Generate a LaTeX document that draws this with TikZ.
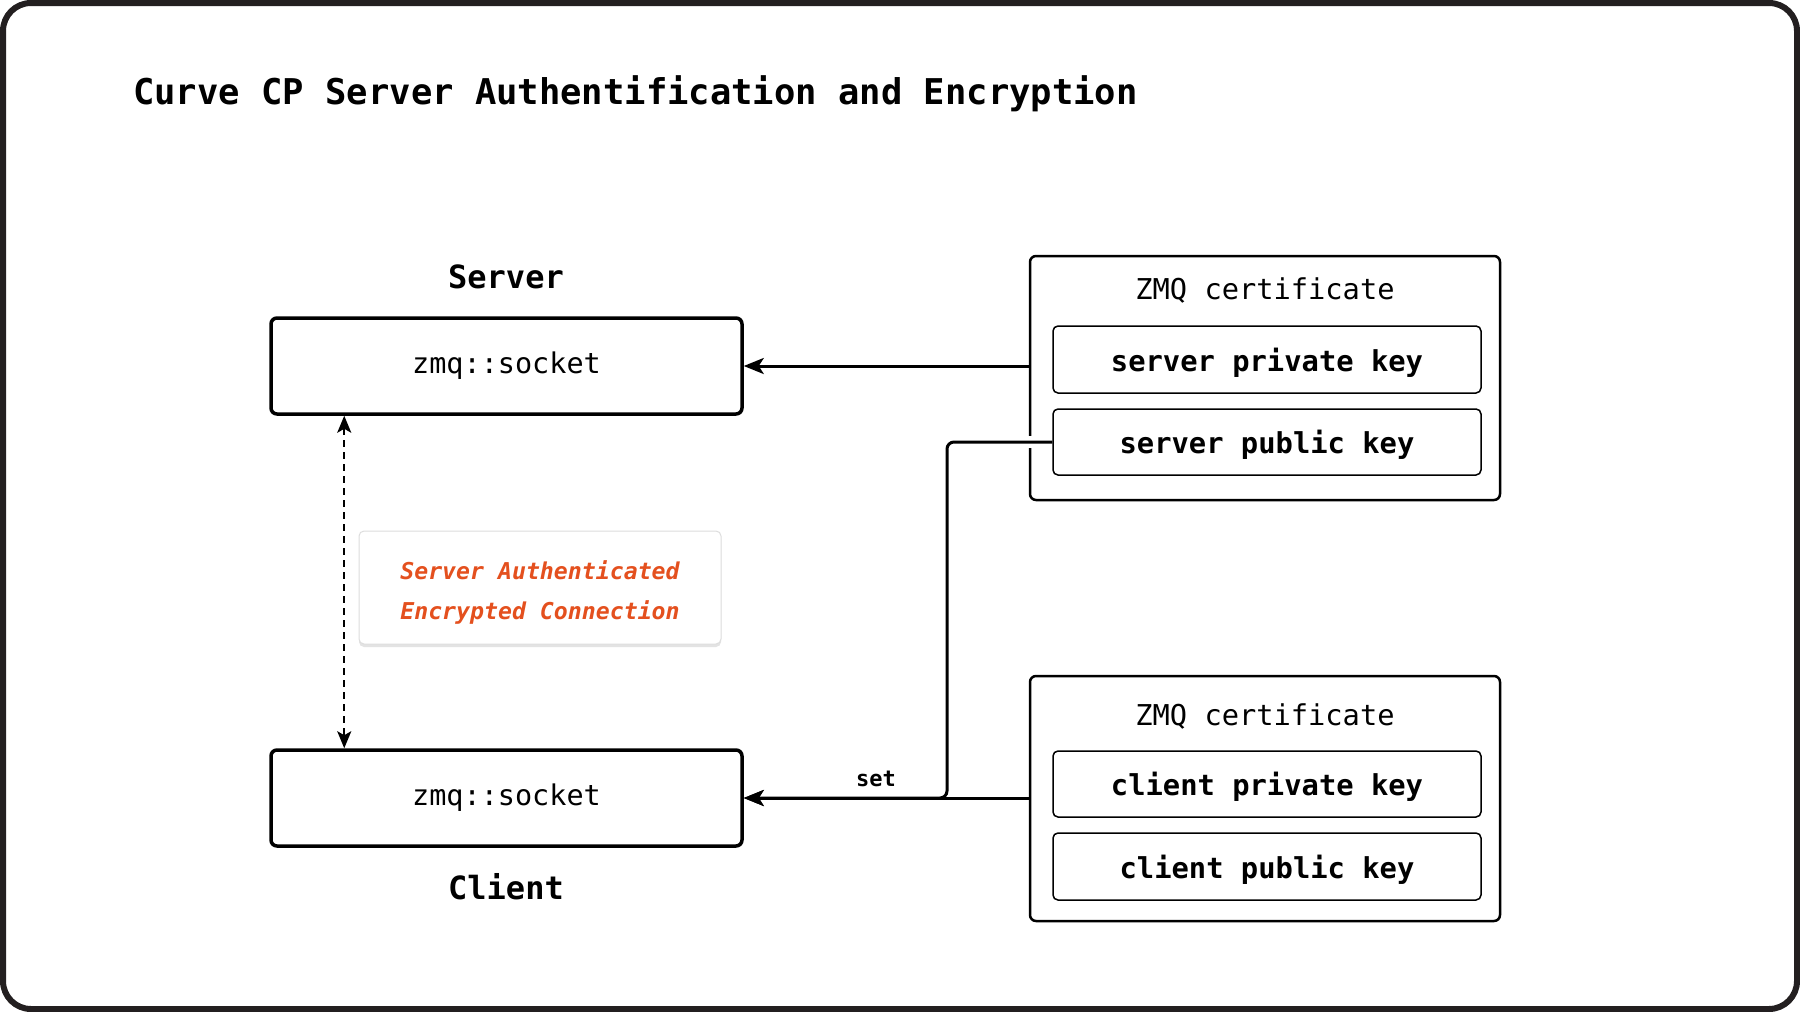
\documentclass[tikz,border=0pt]{standalone}
\usepackage{fontspec}
\setmonofont{DejaVu Sans Mono}
\usetikzlibrary{arrows.meta,shadows,calc}
\definecolor{framecol}{HTML}{231F20}
\definecolor{accent}{HTML}{E4501E}
\definecolor{lblborder}{HTML}{DDDDDD}
\tikzset{
  socketbox/.style={draw=black, line width=3.5pt, rounded corners=6pt, minimum width=471pt, minimum height=96pt, font=\ttfamily\fontsize{28.5}{34}\selectfont, inner sep=0pt},
  certbox/.style={draw=black, line width=2.5pt, rounded corners=6pt, minimum width=470pt, minimum height=244pt, inner sep=0pt},
  keybox/.style={draw=black, line width=1.5pt, rounded corners=5pt, minimum width=428pt, minimum height=66pt, font=\ttfamily\bfseries\fontsize{28.8}{34}\selectfont, inner sep=0pt, text depth=0pt},
  certtitle/.style={font=\ttfamily\fontsize{28.7}{34}\selectfont, inner sep=0pt},
  rolelabel/.style={font=\ttfamily\bfseries\fontsize{32}{38}\selectfont, inner sep=0pt},
  conn/.style={draw=black, line width=3pt, -{Stealth[length=20pt,width=16pt,inset=5pt]}},
  dasharrow/.style={draw=black, line width=2.2pt, dash pattern=on 7pt off 5pt, {Stealth[length=17pt,width=14pt,inset=4pt]}-{Stealth[length=17pt,width=14pt,inset=4pt]}},
  notebox/.style={draw=lblborder, line width=1pt, fill=white, rounded corners=5pt, minimum width=362pt, minimum height=113pt, drop shadow={opacity=0.22, shadow xshift=0pt, shadow yshift=-3pt}},
  notetext/.style={align=center, text=accent, font=\ttfamily\bfseries\itshape\fontsize{23.2}{40}\selectfont, inner sep=0pt},
}
\begin{document}
\begin{tikzpicture}[x=1pt, y=-1pt]
\useasboundingbox (0,0) rectangle (1800,1012);
\fill[white] (0,0) rectangle (1800,1012);
\draw[framecol, line width=6pt, rounded corners=28pt] (3,3) rectangle (1797,1009);

\node[font=\ttfamily\bfseries\fontsize{35.5}{42}\selectfont, anchor=west, inner sep=0pt] (title) at (133,94) {Curve CP Server Authentification and Encryption};

\node[rolelabel] (serverlbl) at (506,277) {Server};
\node[socketbox] (ssock) at (506.5,366) {zmq::socket};
\node[socketbox] (csock) at (506.5,798) {zmq::socket};
\node[rolelabel] (clientlbl) at (506,887) {Client};

\node[certbox] (scert) at (1265,378) {};
\node[certtitle] (scerttitle) at (1265,290) {ZMQ certificate};
\node[certbox, minimum height=245pt] (ccert) at (1265,798.5) {};
\node[certtitle] (ccerttitle) at (1265,716) {ZMQ certificate};

% gap in certificate border where the "set" line crosses
\draw[white, line width=4pt] (1030,436) -- (1030,448);

\node[keybox, minimum height=67pt] (spriv) at (1267,359.5) {server private key};
\node[keybox] (spub) at (1267,442) {server public key};
\node[keybox] (cpriv) at (1267,784) {client private key};
\node[keybox, minimum height=67pt] (cpub) at (1267,866.5) {client public key};

\coordinate (setcorner) at (947,442);
\coordinate (setbottom) at (947,798);

\draw[conn, rounded corners=7pt] (spub.west) -- (setcorner) -- (setbottom) -- (csock.east);

\draw[conn] (scert.west |- ssock.east) -- (ssock.east);
\draw[conn] (ccert.west |- csock.east) -- (csock.east);
\node[font=\ttfamily\bfseries\fontsize{22}{26}\selectfont, inner sep=0pt] (setlbl) at (876,779) {set};

\draw[dasharrow] ([xshift=75pt]ssock.south west) -- ([xshift=75pt]csock.north west);

\node[notebox] (note) at (540,587.5) {};
\node[notetext] (notetxt) at (540,592) {Server Authenticated\\Encrypted Connection};
\end{tikzpicture}
\end{document}
